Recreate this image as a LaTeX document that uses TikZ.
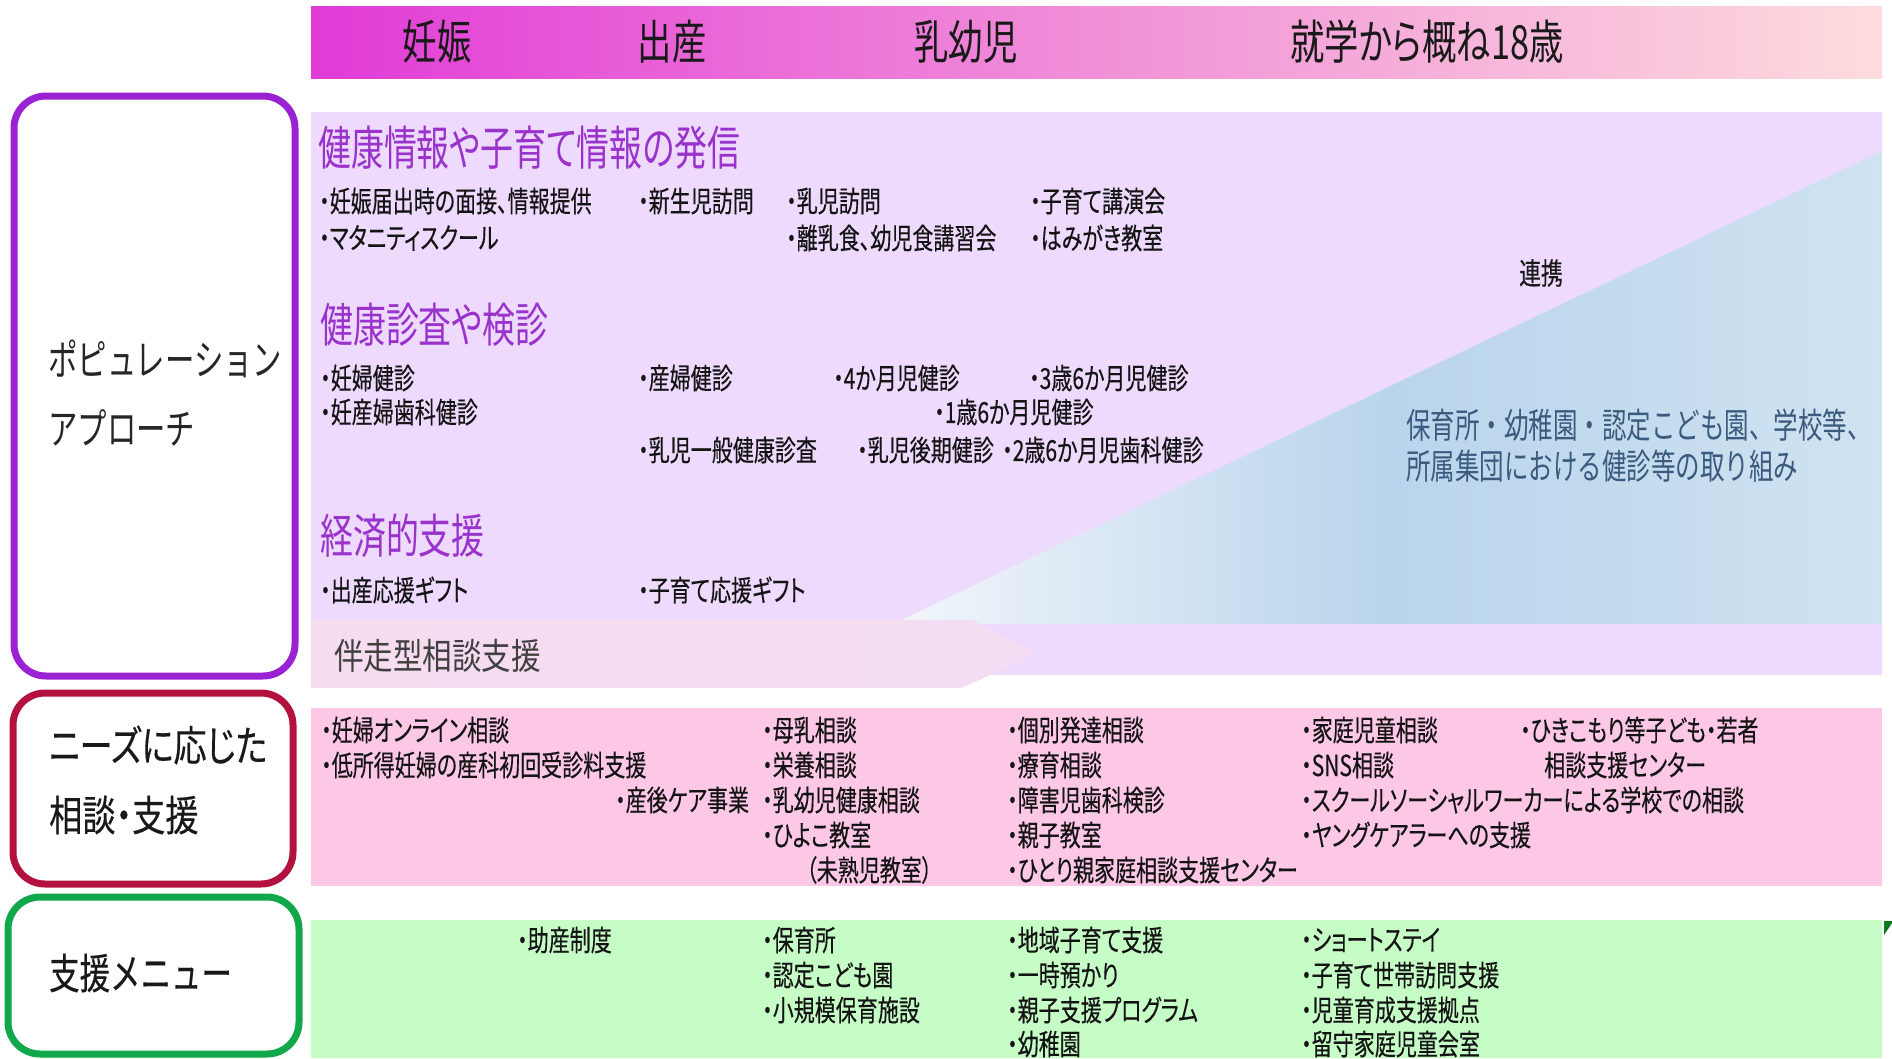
\documentclass[tikz,border=0pt]{standalone}
\usepackage{fontspec}
\setmainfont{Noto Sans CJK JP}
\newfontfamily\jp{Noto Sans CJK JP}[FakeStretch=0.725,FakeBold=0.3,RawFeature=+palt]
\newfontfamily\jph{Noto Sans CJK JP}[FakeStretch=0.7,RawFeature=+palt]
\newfontfamily\jpt{Noto Sans CJK JP}[FakeStretch=0.73,RawFeature=+palt]
\newfontfamily\jpl{Noto Sans CJK JP}[FakeStretch=0.79,FakeBold=0.3,RawFeature=+palt]
\newfontfamily\jpm{Noto Sans CJK JP}[FakeStretch=0.725,FakeBold=0.3]
\newfontfamily\jpf{Noto Sans CJK JP}[FakeStretch=0.70]
\newfontfamily\jpa{Noto Sans CJK JP}[FakeStretch=0.82]
\definecolor{hdrL}{HTML}{E13BD7}
\definecolor{hdrM}{HTML}{F190D8}
\definecolor{hdrR}{HTML}{FDDCDD}
\definecolor{lav}{HTML}{EDDAFD}
\definecolor{bl1}{HTML}{F3F6FB}
\definecolor{bl2}{HTML}{B9D4EC}
\definecolor{bl3}{HTML}{D0E3F1}
\definecolor{arwL}{HTML}{F6DCEF}
\definecolor{arwR}{HTML}{F4DCF2}
\definecolor{pnk}{HTML}{FDC7E6}
\definecolor{grn}{HTML}{C6FDC6}
\definecolor{headp}{HTML}{9933CC}
\definecolor{bpurple}{HTML}{9A22D2}
\definecolor{bred}{HTML}{B3123F}
\definecolor{bgreen}{HTML}{10A84A}
\definecolor{dgreen}{HTML}{0A7A1E}
\definecolor{bluetxt}{HTML}{3A5A7E}
\begin{document}
\begin{tikzpicture}[x=1pt,y=-1pt,
  itemtxt/.style={anchor=west,inner sep=0pt,font=\jp\fontsize{29}{34}\selectfont,text=black!92},
  headtxt/.style={anchor=west,inner sep=0pt,font=\jph\fontsize{47}{52}\selectfont,text=headp},
  boxlbl/.style={anchor=west,inner sep=0pt,font=\jpf\fontsize{42}{48}\selectfont,text=black!85},
  toptxt/.style={inner sep=0pt,font=\jpt\fontsize{47}{52}\selectfont,text=black!90},
  lbox/.style={line width=7pt,rounded corners=32pt,fill=white}]

\useasboundingbox (0,0) rectangle (1892,1058);
\fill[white] (0,0) rectangle (1892,1058);

% header band
\shade[left color=hdrL, right color=hdrR, middle color=hdrM] (311,6) rectangle (1882,78);
\node[toptxt] (t1) at (437,42) {妊娠};
\node[toptxt] (t2) at (672,42) {出産};
\node[toptxt] (t3) at (966,42) {乳幼児};
\node[toptxt] (t4) at (1427,42) {就学から概ね18歳};

% left boxes
\draw[lbox,draw=bpurple] (14,96) rectangle (295,676);
\draw[lbox,draw=bred] (13,693) rectangle (293,884);
\draw[lbox,draw=bgreen] (8,897) rectangle (299,1054);
\node[boxlbl] (l1) at (48,359) {ポピュレーション};
\node[boxlbl] (l2) at (48,428) {アプローチ};
\node[boxlbl,font=\jpl\fontsize{42}{48}\selectfont,text=black!90] (l3) at (49,745) {ニーズに応じた};
\node[boxlbl,font=\jpl\fontsize{42}{48}\selectfont,text=black!90] (l4) at (49,815) {相談・支援};
\node[boxlbl,font=\jpm\fontsize{42}{48}\selectfont,text=black!90] (l5) at (49,973) {支援メニュー};

% population panel
\fill[lav] (311,112) rectangle (1882,675);
\shade[left color=bl1, right color=bl3, middle color=bl2] (893,624) -- (1882,151) -- (1882,624) -- cycle;
\shade[left color=arwL, right color=arwR] (311,620) -- (972,620) -- (1038,654) -- (961,688) -- (311,688) -- cycle;

\node[headtxt] (h1) at (318,148) {健康情報や子育て情報の発信};
\node[headtxt] (h2) at (320,325) {健康診査や検診};
\node[headtxt] (h3) at (320,536) {経済的支援};

\node[itemtxt] (a1) at (319,201) {・妊娠届出時の面接、情報提供};
\node[itemtxt] (a2) at (319,238) {・マタニティスクール};
\node[itemtxt] (a3) at (638,201) {・新生児訪問};
\node[itemtxt] (a4) at (786,201) {・乳児訪問};
\node[itemtxt] (a5) at (786,238) {・離乳食、幼児食講習会};
\node[itemtxt] (a6) at (1030,201) {・子育て講演会};
\node[itemtxt] (a7) at (1030,238) {・はみがき教室};

\node[itemtxt] (b1) at (320,378) {・妊婦健診};
\node[itemtxt] (b2) at (320,412) {・妊産婦歯科健診};
\node[itemtxt] (b3) at (638,378) {・産婦健診};
\node[itemtxt] (b4) at (833,378) {・4か月児健診};
\node[itemtxt] (b5) at (1029,378) {・3歳6か月児健診};
\node[itemtxt] (b6) at (934,412) {・1歳6か月児健診};
\node[itemtxt] (b7) at (638,450) {・乳児一般健康診査};
\node[itemtxt] (b8) at (857,450) {・乳児後期健診};
\node[itemtxt] (b9) at (1002,450) {・2歳6か月児歯科健診};

\node[itemtxt] (c1) at (320,590) {・出産応援ギフト};
\node[itemtxt] (c2) at (638,590) {・子育て応援ギフト};

\node[anchor=west,inner sep=0pt,font=\jpa\fontsize{36}{42}\selectfont,text=black!75] (d1) at (334,656) {伴走型相談支援};

\node[inner sep=0pt,font=\jp\fontsize{30}{34}\selectfont,text=black!90] (e1) at (1541,273) {連携};
\node[anchor=west,inner sep=0pt,font=\jpf\fontsize{35}{40}\selectfont,text=bluetxt] (e2) at (1406,425) {保育所・幼稚園・認定こども園、学校等、};
\node[anchor=west,inner sep=0pt,font=\jpf\fontsize{35}{40}\selectfont,text=bluetxt] (e3) at (1406,466) {所属集団における健診等の取り組み};

% needs panel
\fill[pnk] (311,708) rectangle (1882,886);
\node[itemtxt] (p1) at (321,730) {・妊婦オンライン相談};
\node[itemtxt] (p2) at (321,765) {・低所得妊婦の産科初回受診料支援};
\node[itemtxt] (p3) at (615,800) {・産後ケア事業};
\node[itemtxt] (p4) at (762,730) {・母乳相談};
\node[itemtxt] (p5) at (762,765) {・栄養相談};
\node[itemtxt] (p6) at (762,800) {・乳幼児健康相談};
\node[itemtxt] (p7) at (762,835) {・ひよこ教室};
\node[itemtxt] (p8) at (806,870) {（未熟児教室）};
\node[itemtxt] (p9) at (1007,730) {・個別発達相談};
\node[itemtxt] (p10) at (1007,765) {・療育相談};
\node[itemtxt] (p11) at (1007,800) {・障害児歯科検診};
\node[itemtxt] (p12) at (1007,835) {・親子教室};
\node[itemtxt] (p13) at (1007,870) {・ひとり親家庭相談支援センター};
\node[itemtxt] (p14) at (1301,730) {・家庭児童相談};
\node[itemtxt] (p15) at (1301,765) {・SNS相談};
\node[itemtxt] (p16) at (1301,800) {・スクールソーシャルワーカーによる学校での相談};
\node[itemtxt] (p17) at (1301,835) {・ヤングケアラーへの支援};
\node[itemtxt] (p18) at (1520,730) {・ひきこもり等子ども・若者};
\node[itemtxt] (p19) at (1544,765) {相談支援センター};

% support menu panel
\fill[grn] (311,920) rectangle (1882,1058);
\fill[dgreen] (1884,921) -- (1892,921) -- (1892,923) -- (1884,935) -- cycle;
\node[itemtxt] (g1) at (517,940) {・助産制度};
\node[itemtxt] (g2) at (762,940) {・保育所};
\node[itemtxt] (g3) at (762,975) {・認定こども園};
\node[itemtxt] (g4) at (762,1010) {・小規模保育施設};
\node[itemtxt] (g5) at (1007,940) {・地域子育て支援};
\node[itemtxt] (g6) at (1007,975) {・一時預かり};
\node[itemtxt] (g7) at (1007,1010) {・親子支援プログラム};
\node[itemtxt] (g8) at (1007,1044) {・幼稚園};
\node[itemtxt] (g9) at (1301,940) {・ショートステイ};
\node[itemtxt] (g10) at (1301,975) {・子育て世帯訪問支援};
\node[itemtxt] (g11) at (1301,1010) {・児童育成支援拠点};
\node[itemtxt] (g12) at (1301,1044) {・留守家庭児童会室};
\end{tikzpicture}
\end{document}
